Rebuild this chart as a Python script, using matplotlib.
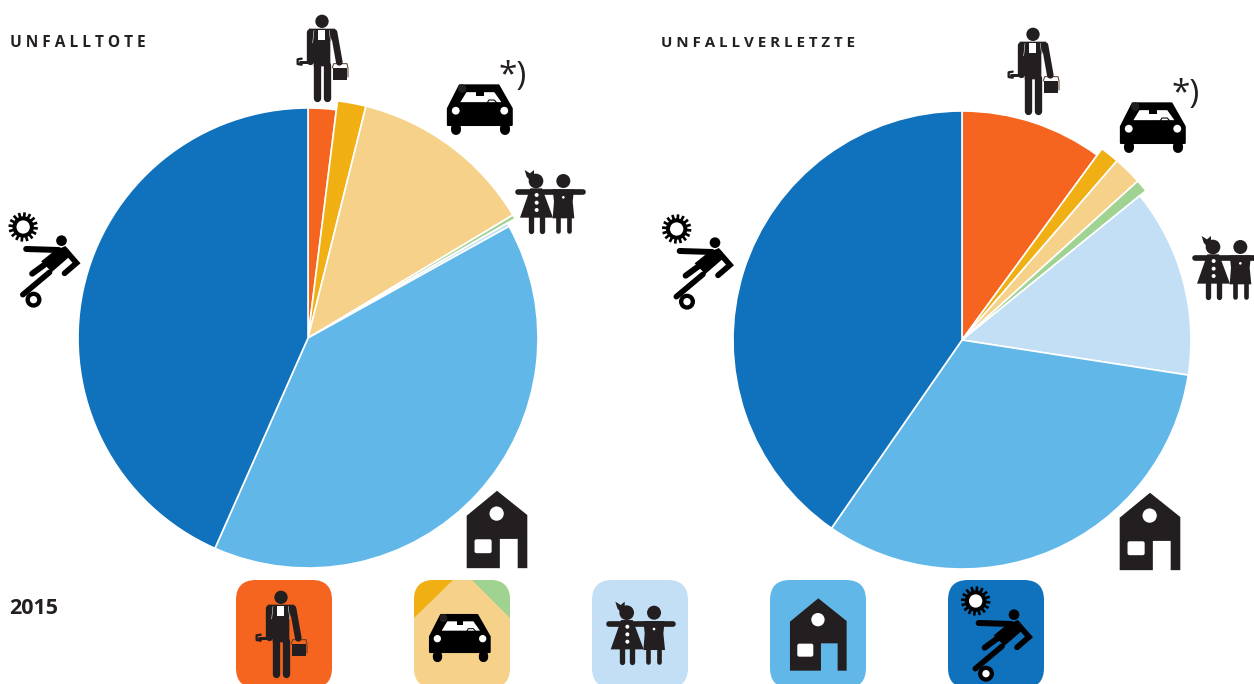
import math
import matplotlib
matplotlib.use('Agg')
import matplotlib.pyplot as plt
from matplotlib.patches import Circle, FancyBboxPatch, Polygon

# shares in percent, clockwise from 12 o'clock
categories = ['Arbeit', 'Verkehr Sonst', 'Verkehr', 'Verkehr Kinder', 'Schule', 'Haushalt', 'Freizeit']
tote = [1.97, 1.93, 12.5, 0.28, 0.25, 39.7, 43.37]
verletzte = [10.05, 1.3, 1.95, 0.85, 13.3, 32.2, 40.35]
titles = ['U N F A L L T O T E', 'U N F A L L V E R L E T Z T E']
year = '2015'

colors = ['#F5651F', '#F0B014', '#F6D18A', '#A0D292', '#C2DFF5', '#62B7E9', '#1072BC']
ICON = '#231F20'
W, H = 1254, 684

plt.rcParams['font.family'] = ['Open Sans', 'DejaVu Sans']

fig = plt.figure(figsize=(W / 100, H / 100), dpi=100)
ax = fig.add_axes([0, 0, 1, 1])


def mapper(cx, cy, s, x0, y0):
    # icon shapes are noted in units of a third of a pixel, y downwards
    return lambda x, y: (cx + (x - x0) * s / 3, H - (cy + (y - y0) * s / 3))


def poly(pts, f, color=ICON, z=5, edge=0):
    ax.add_patch(Polygon([f(*p) for p in pts], closed=True, fc=color,
                         ec=color if edge else 'none', lw=edge, joinstyle='round', zorder=z))


def circ(x, y, r, f, s, color=ICON, z=5):
    ax.add_patch(Circle(f(x, y), r * s / 3, fc=color, ec='none', zorder=z))


def stroke(pts, w, f, s, color=ICON, z=5, cap='round', join='round'):
    xy = [f(*p) for p in pts]
    ax.plot([p[0] for p in xy], [p[1] for p in xy], color=color, lw=w * s / 3 * 0.72,
            solid_capstyle=cap, solid_joinstyle=join, zorder=z)


def worker(cx, cy, s=1.0):
    f = mapper(cx, cy, s, 155, 175)
    circ(155, 65, 20, f, s)
    poly([(116, 87), (194, 87), (180, 130), (180, 200), (130, 200), (130, 130)], f)
    stroke([(140, 195), (140, 296)], 22, f, s)
    stroke([(170, 195), (170, 296)], 22, f, s)
    stroke([(119, 98), (119, 184)], 22, f, s)
    stroke([(191, 98), (207, 188)], 20, f, s)
    poly([(143, 92), (164, 92), (164, 122), (143, 122)], f, 'white', 6)
    stroke([(131, 92), (127, 130)], 1.5, f, s, 'white', 6)
    stroke([(177, 92), (181, 130)], 1.5, f, s, 'white', 6)
    stroke([(90, 186), (122, 186)], 9, f, s)
    stroke([(94, 177), (82, 179), (82, 193), (94, 195)], 7, f, s)
    poly([(188, 205), (230, 205), (230, 240), (188, 240)], f)
    stroke([(186, 205), (190, 192), (230, 192), (233, 205), (233, 232)], 3, f, s, '#5A3A28', 4)


def car(cx, cy, s=1.0):
    f = mapper(cx, cy, s, 690, 190)
    k = 'black'
    poly([(633, 121), (742, 121), (779, 186), (779, 232), (600, 232), (600, 186)], f, k, edge=1.5)
    stroke([(622, 240), (622, 246)], 28, f, s, k)
    stroke([(760, 240), (760, 246)], 28, f, s, k)
    poly([(652, 140), (730, 140), (750, 168), (635, 168)], f, 'white', 6)
    circ(622, 192, 11, f, s, 'white', 6)
    circ(758, 192, 11, f, s, 'white', 6)
    circ(640, 130, 12, f, s, ICON, 6)
    poly([(680, 138), (700, 138), (700, 150), (680, 150)], f, k, 7)
    stroke([(710, 170), (715, 162), (730, 162), (737, 170)], 3, f, s, k, 7)


def kids(cx, cy, s=1.0):
    f = mapper(cx, cy, s, 152, 170)
    circ(110, 113, 22, f, s)
    poly([(76, 80), (92, 90), (104, 80), (104, 100), (92, 112), (82, 100)], f)
    stroke([(56, 147), (250, 147)], 17, f, s)
    poly([(93, 135), (128, 135), (161, 223), (62, 223)], f)
    stroke([(95, 220), (95, 262)], 16, f, s)
    stroke([(127, 220), (127, 262)], 16, f, s)
    for y in (155, 178, 200):
        circ(112, y, 6, f, s, 'white', 6)
    circ(192, 113, 21, f, s)
    poly([(160, 138), (224, 138), (220, 175), (225, 225), (160, 225), (164, 175)], f)
    stroke([(175, 225), (175, 262)], 14, f, s)
    stroke([(208, 225), (208, 262)], 14, f, s)
    circ(192, 162, 4, f, s, 'white', 6)


def house(cx, cy, s=1.0):
    f = mapper(cx, cy, s, 685, 180)
    poly([(685, 70), (770, 138), (770, 287), (743, 287), (743, 205), (693, 205), (693, 287),
          (600, 287), (600, 140)], f)
    circ(684, 134, 20, f, s, 'white', 6)
    x, y = f(622, 245)
    ax.add_patch(FancyBboxPatch((x + 2, y + 2), 16 * s - 4, 13 * s - 4, boxstyle='round,pad=2',
                                fc='white', ec='none', zorder=6))


def runner(cx, cy, s=1.0):
    f = mapper(cx, cy, s, 1222, 176)
    k = 'black'
    for i in range(16):
        a = i * math.pi / 8 + 0.1
        stroke([(1158 + 24 * math.cos(a), 77 + 24 * math.sin(a)),
                (1158 + 44 * math.cos(a), 77 + 44 * math.sin(a))], 8, f, s, k, cap='butt')
    circ(1158, 77, 32, f, s, k)
    circ(1158, 77, 20, f, s, 'white', 6)
    circ(1273, 118, 16, f, s, k)
    stroke([(1167, 143), (1265, 146)], 18, f, s, k)
    poly([(1212, 180), (1252, 148), (1285, 134), (1304, 160), (1244, 212)], f, k)
    stroke([(1284, 146), (1318, 185), (1282, 216)], 17, f, s, k, join='miter')
    stroke([(1185, 217), (1222, 190)], 18, f, s, k)
    stroke([(1237, 213), (1157, 280)], 17, f, s, k)
    circ(1189, 295, 24, f, s, k)
    circ(1189, 295, 11, f, s, 'white', 6)


def draw_pie(values, center, radius, out):
    wedges, _ = ax.pie(values, colors=colors, center=(center[0], H - center[1]), radius=radius,
                       startangle=90, counterclock=False,
                       wedgeprops={'edgecolor': 'white', 'linewidth': 1.2})
    # the traffic slices stick out of the pie
    for i in (1, 2, 3):
        wedges[i].set_radius(out)


draw_pie(tote, (308, 338), 230, 239)
draw_pie(verletzte, (962, 340), 229, 237)

ax.set_xlim(0, W)
ax.set_ylim(0, H)
ax.set_aspect('auto')
ax.axis('off')

# icons around the pies
worker(322, 58)
car(480, 110, 1.07)
kids(550, 200)
house(497, 530, 1.07)
runner(44.5, 260)

worker(1033, 71)
car(1153, 128, 1.07)
kids(1227, 266)
house(1150, 532, 1.07)
runner(698, 262)

# legend tiles
tile_x = [236, 414, 592, 770, 948]
tile_colors = [colors[0], colors[2], colors[4], colors[5], colors[6]]
for x, c in zip(tile_x, tile_colors):
    t = FancyBboxPatch((x + 20, H - 688 + 20), 56, 68, boxstyle='round,pad=20', fc=c, ec='none', zorder=3)
    ax.add_patch(t)
    if x == 414:
        y1 = Polygon([(414, H - 618), (453, H - 580), (414, H - 580)], fc=colors[1], ec='none', zorder=3.5)
        y2 = Polygon([(472, H - 580), (510, H - 580), (510, H - 618)], fc=colors[3], ec='none', zorder=3.5)
        ax.add_patch(y1)
        ax.add_patch(y2)
        y1.set_clip_path(t)
        y2.set_clip_path(t)

worker(281, 634)
car(460, 638)
kids(640.7, 631.7)
house(818.3, 635)
runner(997, 634)

ax.text(10, H - 43, titles[0], fontsize=11.2, fontweight='bold', color=ICON, va='center', ha='left')
ax.text(661, H - 43, titles[1], fontsize=10.9, fontweight='bold', color=ICON, va='center', ha='left')
ax.text(9, H - 608, year, fontsize=15.5, fontweight='bold', color=ICON, va='center', ha='left')
ax.text(499, H - 76, '*)', fontsize=24, color=ICON, va='center', ha='left')
ax.text(1172, H - 95, '*)', fontsize=24, color=ICON, va='center', ha='left')

fig.savefig('out.png', dpi=100)
